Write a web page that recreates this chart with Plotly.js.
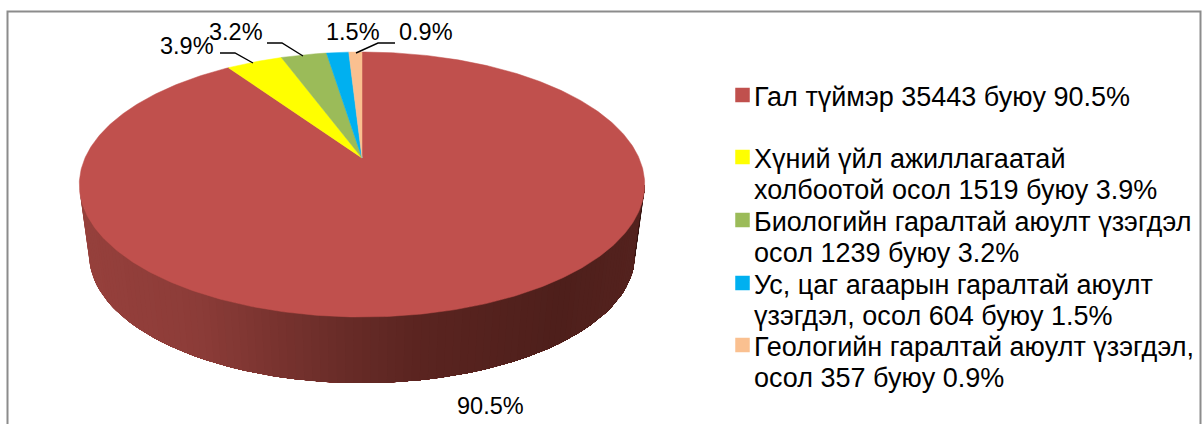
<!DOCTYPE html>
<html><head><meta charset="utf-8">
<script src="https://cdn.plot.ly/plotly-3.0.1.min.js"></script>
<style>html,body{margin:0;padding:0;background:#fff}#c{width:1203px;height:424px}</style>
</head><body><div id="c"></div>
<script>
const categories=["Гал түймэр","Хүний үйл ажиллагаатай холбоотой осол","Биологийн гаралтай аюулт үзэгдэл осол","Ус, цаг агаарын гаралтай аюулт үзэгдэл, осол","Геологийн гаралтай аюулт үзэгдэл, осол"];
const values=[35443,1519,1239,604,357];
const percentLabels=["90.5%","3.9%","3.2%","1.5%","0.9%"];
const colors=["#c0504d","#ffff00","#9bbb59","#00b0f0","#fac090"];
const legendLines=[["Гал түймэр 35443 буюу 90.5%"],["Хүний үйл ажиллагаатай","холбоотой осол 1519 буюу 3.9%"],["Биологийн гаралтай аюулт үзэгдэл","осол 1239 буюу 3.2%"],["Ус, цаг агаарын гаралтай аюулт","үзэгдэл, осол 604 буюу 1.5%"],["Геологийн гаралтай аюулт үзэгдэл,","осол 357 буюу 0.9%"]];
const legendY=[97,159,222,285,347];
const swatchY=[95,157,220,283,345];
const lineStep=30.5;
const labelPos=[[490,406],[187,46],[236,32],[353,32],[426,32]];
const leaders=[[[220,235,253],[53,53,63]],[[267,282,303],[43,43,56]],[[395,378,356],[43,43,53]]];

const cx=362,cy=158,R=277,Ry=127.2,k=0.2,depth=71.6,botScale=0.965;
function proj(phi,scale,dy){const u=Math.sin(phi),v=Math.cos(phi),s=scale/(1+k*v);return [cx+R*u*s,cy+dy+Ry*(-v)*s];}
function arc(a,b,scale,dy,n){const xs=[],ys=[];for(let i=0;i<=n;i++){const p=proj(a+(b-a)*i/n,scale,dy);xs.push(p[0]);ys.push(p[1]);}return [xs,ys];}
const total=values.reduce((a,b)=>a+b,0);
const traces=[];
// side wall of the first slice: each shaded band also covers everything to its right, so no seams show
const sideA=Math.PI-Math.acos(k),sideB=Math.PI+Math.acos(k);
const bands=110;
const stops=[[0,[150,64,60]],[0.2,[140,60,56]],[0.45,[105,44,40]],[0.6,[90,36,32]],[0.85,[78,31,27]],[1,[84,34,30]]];
function shade(t){for(let i=1;i<stops.length;i++){if(t<=stops[i][0]){const f=(t-stops[i-1][0])/(stops[i][0]-stops[i-1][0]);const a=stops[i-1][1],b=stops[i][1];return `rgb(${a.map((c,j)=>Math.round(c+(b[j]-c)*f)).join(",")})`;}}return "#000";}
for(let i=0;i<bands;i++){
  const a=sideB+(sideA-sideB)*i/bands;
  const n=Math.max(6,Math.round((bands-i)/2));
  const t=arc(a,sideA,1,0,n),m=arc(sideA,a,botScale,depth,n);
  const c=shade((proj(a,1,0)[0]-(cx-R*1.02))/(2*R*1.02));
  traces.push({type:"scatter",mode:"lines",x:t[0].concat(m[0]),y:t[1].concat(m[1]),fill:"toself",fillcolor:c,line:{width:0},hoverinfo:"skip",showlegend:false});
}
// top face
let cum=0;
values.forEach((val,i)=>{
  const a=cum/total*2*Math.PI;cum+=val;const b=cum/total*2*Math.PI;
  const t=arc(a,b,1,0,Math.max(8,Math.round((b-a)*90)));
  traces.push({type:"scatter",mode:"lines",x:[cx].concat(t[0],[cx]),y:[cy].concat(t[1],[cy]),fill:"toself",fillcolor:colors[i],line:{color:colors[i],width:0.5},name:categories[i],hoverinfo:"name",showlegend:false});
});
// leaders
leaders.forEach(l=>traces.push({type:"scatter",mode:"lines",x:l[0],y:l[1],line:{color:"#000",width:1.4},hoverinfo:"skip",showlegend:false}));
// legend swatches
traces.push({type:"scatter",mode:"markers",x:swatchY.map(()=>742.5),y:swatchY,marker:{symbol:"square",size:14.5,color:colors},hoverinfo:"skip",showlegend:false});
const annotations=[];
percentLabels.forEach((t,i)=>annotations.push({x:labelPos[i][0],y:labelPos[i][1],text:t,showarrow:false,xanchor:"center",yanchor:"middle",font:{family:"Liberation Sans",size:23.5,color:"#000"}}));
legendLines.forEach((ls,i)=>ls.forEach((t,j)=>annotations.push({x:752,y:legendY[i]+j*lineStep,text:t,showarrow:false,xanchor:"left",yanchor:"middle",font:{family:"Liberation Sans",size:27,color:"#000"}})));
Plotly.newPlot("c",traces,{
  width:1203,height:424,margin:{l:0,r:0,t:0,b:0},paper_bgcolor:"#fff",plot_bgcolor:"#fff",showlegend:false,
  xaxis:{range:[0,1203],visible:false,fixedrange:true},
  yaxis:{range:[424,0],visible:false,fixedrange:true},
  shapes:[{type:"rect",x0:7.5,x1:1200.5,y0:11.5,y1:430,line:{color:"#8c8c8c",width:2},fillcolor:"rgba(0,0,0,0)",layer:"below"}],
  annotations
},{staticPlot:true});
</script></body></html>
